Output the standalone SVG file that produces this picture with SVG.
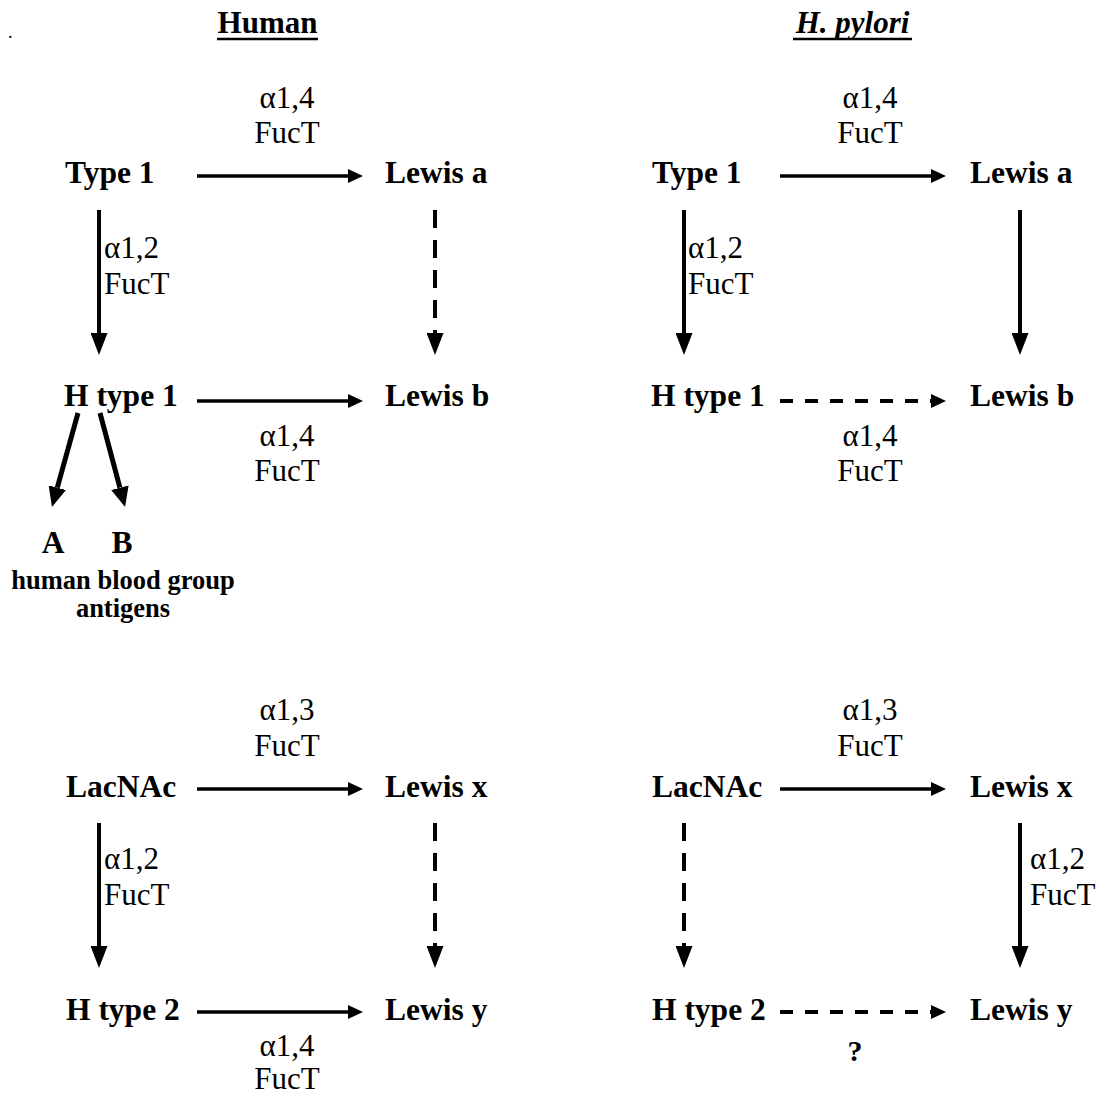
<svg xmlns="http://www.w3.org/2000/svg" width="1106" height="1097" viewBox="0 0 1106 1097">
<style>
text{font-family:"Liberation Serif","Times New Roman",serif;fill:#000}
.n{font-size:31.5px;font-weight:bold}
.l{font-size:31px}
.t{font-size:31px;font-weight:bold}
.s{font-size:26.5px;font-weight:bold}
.c{stroke:#000;fill:none;stroke-width:3.5}
.v{stroke:#000;fill:none;stroke-width:4}
.d{stroke-dasharray:18 12}
.dh{stroke-dasharray:13 12;stroke-width:4}
.ul{stroke:#000;stroke-width:2.5}
</style>
<defs>
<marker id="ah" markerUnits="userSpaceOnUse" markerWidth="15" markerHeight="14" refX="0" refY="7" orient="auto"><path d="M0,0 L15,7 L0,14 z" fill="#000"/></marker>
<marker id="av" markerUnits="userSpaceOnUse" markerWidth="22" markerHeight="17" refX="0" refY="8.5" orient="auto"><path d="M0,0 L22,8.5 L0,17 z" fill="#000"/></marker>
<marker id="ad" markerUnits="userSpaceOnUse" markerWidth="20" markerHeight="18" refX="0" refY="9" orient="auto"><path d="M0,0 L20,9 L0,18 z" fill="#000"/></marker>
</defs>

<g id="titles">
<text x="8" y="38" style="font-size:18px">.</text>
<text class="t" x="267.5" y="33" text-anchor="middle">Human</text>
<line class="ul" x1="217" y1="39" x2="318" y2="39"/>
<text class="t" x="852.5" y="33" text-anchor="middle" font-style="italic">H. pylori</text>
<line class="ul" x1="793" y1="39" x2="912" y2="39"/>
</g>

<!-- Human panel, type 1 -->
<g id="h-type1"><text class="n" x="65" y="183">Type 1</text></g>
<g id="h-lewisa"><text class="n" x="385" y="183">Lewis a</text></g>
<g id="h-htype1"><text class="n" x="64" y="406">H type 1</text></g>
<g id="h-lewisb"><text class="n" x="385" y="406">Lewis b</text></g>
<g id="h-A"><text class="n" x="53" y="553" text-anchor="middle">A</text></g>
<g id="h-B"><text class="n" x="122" y="553" text-anchor="middle">B</text></g>
<g id="h-antigens">
<text class="s" x="123" y="589" text-anchor="middle">human blood group</text>
<text class="s" x="123" y="617" text-anchor="middle">antigens</text>
</g>

<!-- Human panel, type 2 -->
<g id="h-lacnac"><text class="n" x="66" y="797">LacNAc</text></g>
<g id="h-lewisx"><text class="n" x="385" y="797">Lewis x</text></g>
<g id="h-htype2"><text class="n" x="66" y="1020">H type 2</text></g>
<g id="h-lewisy"><text class="n" x="385" y="1020">Lewis y</text></g>

<!-- H. pylori panel, type 1 -->
<g id="p-type1"><text class="n" x="652" y="183">Type 1</text></g>
<g id="p-lewisa"><text class="n" x="970" y="183">Lewis a</text></g>
<g id="p-htype1"><text class="n" x="651" y="406">H type 1</text></g>
<g id="p-lewisb"><text class="n" x="970" y="406">Lewis b</text></g>

<!-- H. pylori panel, type 2 -->
<g id="p-lacnac"><text class="n" x="652" y="797">LacNAc</text></g>
<g id="p-lewisx"><text class="n" x="970" y="797">Lewis x</text></g>
<g id="p-htype2"><text class="n" x="652" y="1020">H type 2</text></g>
<g id="p-lewisy"><text class="n" x="970" y="1020">Lewis y</text></g>

<g id="connectors">
<!-- human top -->
<line class="c" x1="197" y1="176" x2="348" y2="176" marker-end="url(#ah)"/>
<line class="v" x1="99" y1="210" x2="99" y2="333" marker-end="url(#av)"/>
<line class="v d" x1="435" y1="210" x2="435" y2="333" marker-end="url(#av)"/>
<line class="c" x1="197" y1="401" x2="348" y2="401" marker-end="url(#ah)"/>
<line class="v" style="stroke-width:5" x1="78" y1="413" x2="57.3" y2="487.7" marker-end="url(#ad)"/>
<line class="v" style="stroke-width:5" x1="100" y1="413" x2="119.9" y2="487.7" marker-end="url(#ad)"/>
<!-- human bottom -->
<line class="c" x1="197" y1="789" x2="348" y2="789" marker-end="url(#ah)"/>
<line class="v" x1="99" y1="823" x2="99" y2="946" marker-end="url(#av)"/>
<line class="v d" x1="435" y1="823" x2="435" y2="946" marker-end="url(#av)"/>
<line class="c" x1="197" y1="1012" x2="348" y2="1012" marker-end="url(#ah)"/>
<!-- pylori top -->
<line class="c" x1="780" y1="176" x2="931" y2="176" marker-end="url(#ah)"/>
<line class="v" x1="684" y1="210" x2="684" y2="333" marker-end="url(#av)"/>
<line class="v" x1="1020" y1="210" x2="1020" y2="333" marker-end="url(#av)"/>
<line class="c dh" x1="780" y1="401" x2="931" y2="401" marker-end="url(#ah)"/>
<!-- pylori bottom -->
<line class="c" x1="780" y1="789" x2="931" y2="789" marker-end="url(#ah)"/>
<line class="v d" x1="684" y1="823" x2="684" y2="946" marker-end="url(#av)"/>
<line class="v" x1="1020" y1="823" x2="1020" y2="946" marker-end="url(#av)"/>
<line class="c dh" x1="780" y1="1012" x2="931" y2="1012" marker-end="url(#ah)"/>
</g>

<g id="labels">
<text class="l" x="287" y="108" text-anchor="middle">α1,4</text>
<text class="l" x="287" y="143" text-anchor="middle">FucT</text>
<text class="l" x="104" y="258">α1,2</text>
<text class="l" x="104" y="294">FucT</text>
<text class="l" x="287" y="446" text-anchor="middle">α1,4</text>
<text class="l" x="287" y="481" text-anchor="middle">FucT</text>

<text class="l" x="287" y="720" text-anchor="middle">α1,3</text>
<text class="l" x="287" y="756" text-anchor="middle">FucT</text>
<text class="l" x="104" y="869">α1,2</text>
<text class="l" x="104" y="905">FucT</text>
<text class="l" x="287" y="1056" text-anchor="middle">α1,4</text>
<text class="l" x="287" y="1089" text-anchor="middle">FucT</text>

<text class="l" x="870" y="108" text-anchor="middle">α1,4</text>
<text class="l" x="870" y="143" text-anchor="middle">FucT</text>
<text class="l" x="688" y="258">α1,2</text>
<text class="l" x="688" y="294">FucT</text>
<text class="l" x="870" y="446" text-anchor="middle">α1,4</text>
<text class="l" x="870" y="481" text-anchor="middle">FucT</text>

<text class="l" x="870" y="720" text-anchor="middle">α1,3</text>
<text class="l" x="870" y="756" text-anchor="middle">FucT</text>
<text class="l" x="1030" y="869">α1,2</text>
<text class="l" x="1030" y="905">FucT</text>
<text class="n" x="855" y="1061" text-anchor="middle" style="font-size:30px">?</text>
</g>
</svg>
